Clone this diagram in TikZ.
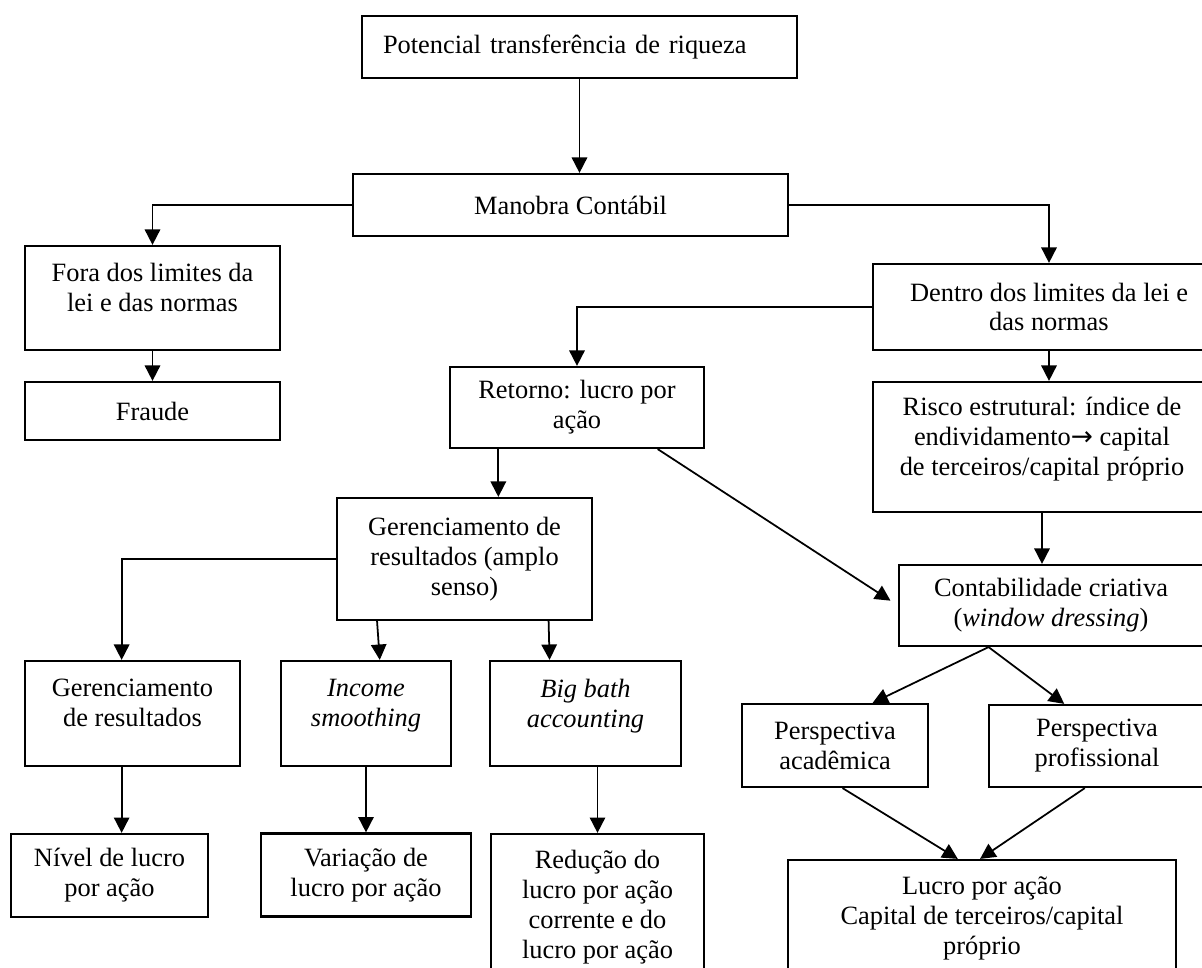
\documentclass[tikz,border=0pt]{standalone}
\usepackage{fontspec}
\setmainfont{Liberation Serif}
\newfontfamily\arrowfont{DejaVu Sans}
\usetikzlibrary{arrows.meta}
\usetikzlibrary{calc}

\newcommand{\pxu}{0.4545pt}
\newcommand{\padline}{\\[-4pt]\mbox{}}

\tikzset{
  box/.style={draw, line width=1pt, align=center, font=\fontsize{12}{13.6}\selectfont},
  wh/.style 2 args={minimum width={#1*\pxu}, minimum height={#2*\pxu}},
  arr/.style={-{Triangle[length=7pt,width=7pt]}, line width=0.8pt},
}

\begin{document}
\begin{tikzpicture}[x=0.4545pt, y=-0.4545pt]

\useasboundingbox (0,0) rectangle (1202,968);
\clip (0,0) rectangle (1202,968);

	% top of the tree
	\node[box, wh={435}{62}, align=left, text width={393*\pxu}, inner xsep={21*\pxu}] (pot) at (579.5,47) {Potencial transferência de riqueza};
	\node[box, wh={435}{62}] (manobra) at (570.5,205) {Manobra Contábil};

	\node[box, wh={255}{104}] (fora) at (152.5,298) {Fora dos limites da\\lei e das normas\padline};
	\node[box, wh={255}{58}] (fraude) at (152.5,411) {Fraude};

	\node[box, wh={352}{86}] (dentro) at (1049,307) {Dentro dos limites da lei e\\das normas};
	\node[box, wh={254}{81}] (retorno) at (577,407.5) {Retorno: lucro por\\ação};
	\node[box, wh={338}{130}] (risco) at (1042,447) {Risco estrutural: índice de\\endividamento{\arrowfont →} capital\\de terceiros/capital próprio\padline};

	% left branch
	\node[box, wh={255}{122}] (ger) at (464.5,559) {Gerenciamento de\\resultados (amplo\\senso)};
	\node[box, wh={215}{105}] (ger2) at (132.5,713.5) {Gerenciamento\\de resultados\padline};
	\node[box, wh={170}{105}] (income) at (366,713.5) {\textit{Income}\\\textit{smoothing}\padline};
	\node[box, wh={191}{105}] (bigbath) at (585.5,713.5) {\textit{Big bath}\\\textit{accounting}\padline};

	\node[box, wh={197}{83}] (nivel) at (109.5,875.5) {Nível de lucro\\por ação};
	\node[box, wh={210}{83}] (variacao) at (366,875) {Variação de\\lucro por ação};
	\node[box, wh={213}{147}] (reducao) at (597.5,907.5) {Redução do\\lucro por ação\\corrente e do\\lucro por ação};

	% right branch
	\node[box, wh={304}{81}] (contab) at (1051,605.5) {Contabilidade criativa\\(\textit{window dressing})};
	\node[box, wh={186}{83}] (acad) at (835,745.5) {Perspectiva\\acadêmica};
	\node[box, wh={216}{82}] (prof) at (1097,746) {Perspectiva\\profissional};
	\node[box, wh={388}{116}] (lucro) at (982,918) {Lucro por ação\\Capital de terceiros/capital\\próprio};

	% connectors
	\draw[arr] (pot.south) -- (pot.south |- manobra.north);
	\draw[arr] (manobra.west) -| (fora.north);
	\draw[arr] (manobra.east) -| (dentro.north);
	\draw[arr] (fora.south) -- (fraude.north);
	\draw[arr] (dentro.west) -| (retorno.north);
	\draw[arr] (dentro.south) -- (dentro.south |- risco.north);

	\coordinate (rt) at ($(retorno.south west)!0.193!(retorno.south east)$);
	\coordinate (rd) at ($(retorno.south west)!0.815!(retorno.south east)$);
	\draw[arr] (rt) -- (rt |- ger.north);
	\draw[arr, shorten >=4pt] (rd) -- (contab.west);
	\draw[arr] (risco.south) -- (risco.south |- contab.north);

	\coordinate (gx) at ($(ger2.north west)!0.45!(ger2.north east)$);
	\draw[arr] (ger.west) -| (gx);
	\draw[arr] ($(ger.south west)!0.16!(ger.south east)$) -- ($(income.north west)!0.58!(income.north east)$);
	\draw[arr] ($(ger.south west)!0.827!(ger.south east)$) -- ($(bigbath.north west)!0.314!(bigbath.north east)$);
	\draw[arr] (gx |- ger2.south) -- (gx |- nivel.north);
	\draw[arr] (income.south) -- (variacao.north);
	\draw[arr] (bigbath.south -| reducao.north) -- (reducao.north);

	\coordinate (cb) at ($(contab.south west)!0.296!(contab.south east)$);
	\draw[arr] (cb) -- ($(acad.north west)!0.70!(acad.north east)$);
	\draw[arr] (cb) -- ($(prof.north west)!0.35!(prof.north east)$);
	\draw[arr] ($(acad.south west)!0.54!(acad.south east)$) -- ($(lucro.north west)!0.438!(lucro.north east)$);
	\draw[arr] ($(prof.south west)!0.444!(prof.south east)$) -- ($(lucro.north west)!0.495!(lucro.north east)$);

\end{tikzpicture}
\end{document}
